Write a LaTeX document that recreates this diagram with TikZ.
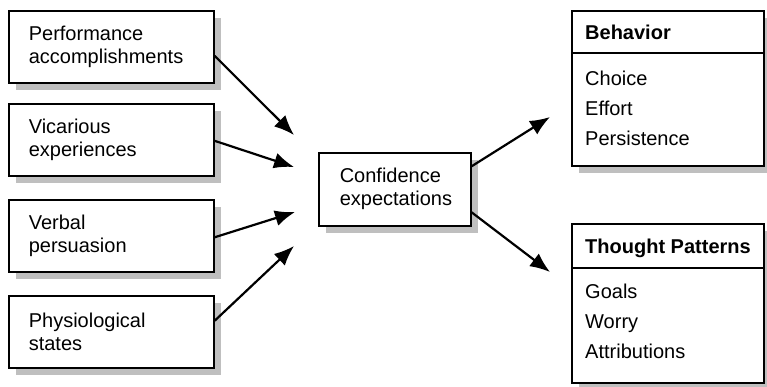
\documentclass[tikz,border=0pt]{standalone}
\usepackage{fontspec}
\setmainfont{Liberation Sans}
\usetikzlibrary{arrows.meta,shadows,calc}
\begin{document}
\begin{tikzpicture}[x=1pt,y=-1pt,
  box/.style={draw=black, line width=1.6pt, fill=white, rectangle, inner sep=0pt,
    drop shadow={shadow xshift=7pt, shadow yshift=-7pt, fill=black!25, opacity=1}},
  txt/.style={font=\fontsize{20}{23}\selectfont},
  leftbox/.style={box, txt, anchor=north west, minimum width=205pt, minimum height=72pt,
    text width=165pt, inner xsep=20pt, align=left},
  midbox/.style={box, txt, anchor=north west, minimum width=152pt, minimum height=73pt,
    text width=110pt, inner xsep=21pt, align=left},
  rbox/.style={box, anchor=north west, minimum width=192pt},
  hdr/.style={anchor=base west, inner sep=0pt, font=\fontsize{20}{23}\selectfont\bfseries},
  item/.style={txt, anchor=base west, inner sep=0pt},
  sep/.style={line width=1.6pt},
  arr/.style={line width=2.2pt, -{Latex[length=20pt,width=16pt]}}
]
\useasboundingbox (0,0) rectangle (767,386);

% left boxes
\node[leftbox] (perf) at (8,10) {Performance\\accomplishments};
\node[leftbox] (vic) at (8,103) {Vicarious\\experiences};
\node[leftbox] (verb) at (8,199) {Verbal\\persuasion};
\node[leftbox] (phys) at (8,295) {Physiological\\states};

% centre box
\node[midbox] (conf) at (318,152) {Confidence\\expectations};

% right boxes
\node[rbox, minimum height=155pt] (beh) at (571,10) {};
\draw[sep] ($(beh.north west)+(0,43)$) -- ($(beh.north east)+(0,43)$);
\node[hdr] (behh) at (585,39) {Behavior};
\node[item] (choice) at (585,85) {Choice};
\node[item] (effort) at (585,115) {Effort};
\node[item] (pers) at (585,145) {Persistence};

\node[rbox, minimum height=159pt] (tho) at (571,223) {};
\draw[sep] ($(tho.north west)+(0,45)$) -- ($(tho.north east)+(0,45)$);
\node[hdr] (thoh) at (585,253) {Thought Patterns};
\node[item] (goals) at (585,298) {Goals};
\node[item] (worry) at (585,328) {Worry};
\node[item] (attr) at (585,358) {Attributions};

% arrow ends
\coordinate (t1) at (294,135);
\coordinate (t2) at (294,167);
\coordinate (t3) at (295,212);
\coordinate (t4) at (294,246);
\coordinate (u1) at (550,117);
\coordinate (u2) at (550,272);

\draw[arr] ([yshift=-9pt]perf.east) -- (t1);
\draw[arr] ([yshift=-1pt]vic.east) -- (t2);
\draw[arr] ([yshift=-1.5pt]verb.east) -- (t3);
\draw[arr] ([yshift=11pt]phys.east) -- (t4);
\draw[arr] ([yshift=23pt]conf.east) -- (u1);
\draw[arr] ([yshift=-23pt]conf.east) -- (u2);
\end{tikzpicture}
\end{document}
